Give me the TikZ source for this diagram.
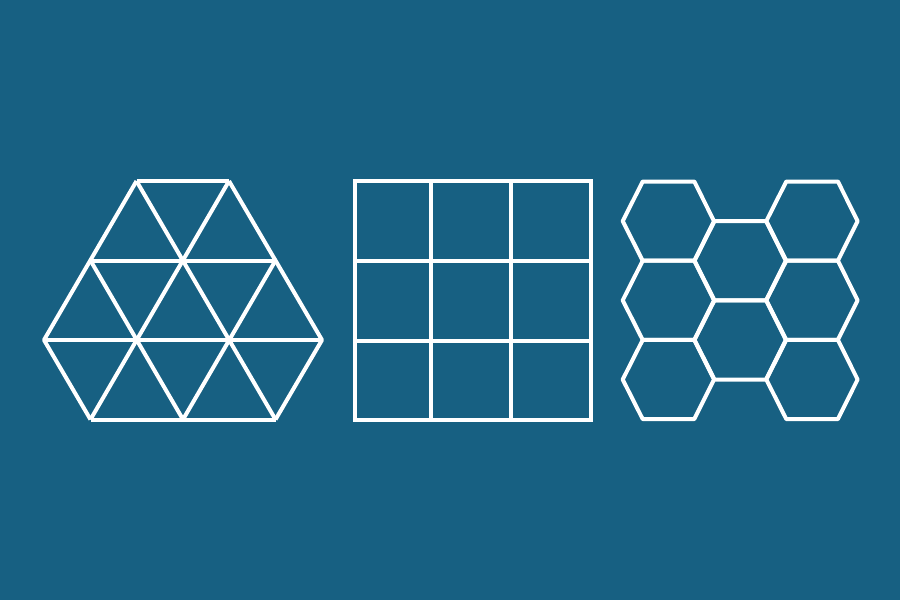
\documentclass[tikz,border=0pt]{standalone}
\definecolor{bg}{RGB}{23,96,130}
\begin{document}
\begin{tikzpicture}[x=1pt,y=-1pt,
  ln/.style={draw=white,line width=4pt,line join=round}]
\fill[bg] (0,0) rectangle (900,600);
\useasboundingbox (0,0) rectangle (900,600);
% triangles
\draw[ln] (136.5,181) -- (229,181);
\draw[ln] (90.5,260.5) -- (275.5,260.5);
\draw[ln] (44,340) -- (322,340);
\draw[ln] (90.5,419.5) -- (275.5,419.5);
\draw[ln] (136.5,181) -- (44,340) -- (90.5,419.5);
\draw[ln] (136.5,181) -- (275.5,419.5);
\draw[ln] (229,181) -- (90.5,419.5);
\draw[ln] (229,181) -- (322,340) -- (275.5,419.5);
\draw[ln] (90.5,260.5) -- (183,419.5);
\draw[ln] (275.5,260.5) -- (183,419.5);
% squares
\draw[ln,line join=miter] (354.5,181) rectangle (590.5,420);
\draw[ln] (431,181) -- (431,420);
\draw[ln] (510.5,181) -- (510.5,420);
\draw[ln] (354.5,261) -- (590.5,261);
\draw[ln] (354.5,340.5) -- (590.5,340.5);
% hexagons
\foreach \c/\k in {0/0,0/2,0/4,1/1,1/3,2/0,2/2,2/4}{
  \draw[ln] ({622.7+71.8*\c},{181.5+39.6*(\k+1)})
    -- ({642.7+71.8*\c},{181.5+39.6*\k})
    -- ({694.3+71.8*\c},{181.5+39.6*\k})
    -- ({714+71.8*\c},{181.5+39.6*(\k+1)})
    -- ({694.3+71.8*\c},{181.5+39.6*(\k+2)})
    -- ({642.7+71.8*\c},{181.5+39.6*(\k+2)}) -- cycle;
}
\end{tikzpicture}
\end{document}
